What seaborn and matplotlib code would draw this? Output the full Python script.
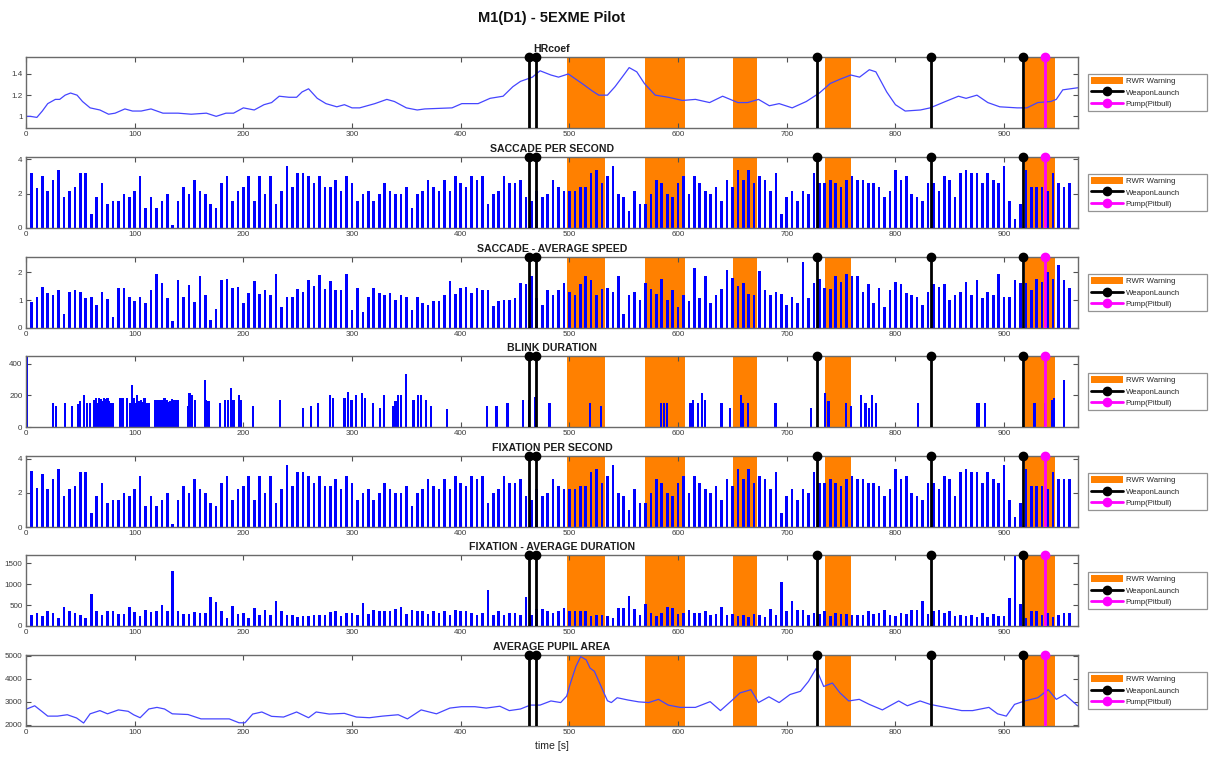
import matplotlib
matplotlib.use('Agg')
import matplotlib.pyplot as plt
import seaborn as sns
import numpy as np
from matplotlib.patches import Patch
from matplotlib.lines import Line2D
from matplotlib.legend_handler import HandlerLine2D

sns.set_theme(style='white')
plt.rcParams['font.family'] = ['Liberation Sans', 'DejaVu Sans']

# ---------------- data ----------------
rwr_start = [498, 570, 651, 735, 919]
rwr_end = [533, 606, 673, 759, 947]
weapon_t = [463, 469, 728, 833, 917]
pump_t = [938]

hr_t = [0, 4, 10, 15, 20, 27, 31, 36, 41, 47, 52, 59, 68, 76, 82, 91, 98, 106, 115, 126, 140, 152, 166, 175,
        184, 191, 200, 210, 219, 226, 233, 242, 249, 254, 260, 268, 276, 286, 293, 300, 307, 321, 332, 339,
        350, 360, 367, 392, 401, 416, 427, 439, 448, 455, 466, 473, 483, 490, 499, 506, 513, 521, 527, 535,
        542, 550, 555, 562, 569, 579, 591, 604, 616, 629, 641, 655, 664, 674, 684, 693, 705, 718, 730, 740,
        749, 759, 767, 776, 782, 792, 800, 809, 823, 832, 846, 858, 865, 875, 885, 896, 912, 921, 931, 943,
        948, 954, 968]
hr_v = [1.0, 1.0, 0.99, 1.05, 1.12, 1.16, 1.16, 1.2, 1.22, 1.2, 1.14, 1.08, 1.06, 1.02, 1.03, 1.07, 1.05,
        1.05, 1.07, 1.03, 1.03, 1.02, 1.03, 1.0, 1.03, 1.03, 1.08, 1.06, 1.11, 1.13, 1.19, 1.18, 1.18, 1.23,
        1.26, 1.17, 1.12, 1.09, 1.11, 1.08, 1.08, 1.12, 1.16, 1.14, 1.08, 1.06, 1.07, 1.08, 1.12, 1.12, 1.17,
        1.19, 1.28, 1.33, 1.37, 1.43, 1.39, 1.37, 1.4, 1.35, 1.3, 1.24, 1.2, 1.2, 1.28, 1.39, 1.46, 1.42,
        1.31, 1.2, 1.18, 1.15, 1.16, 1.13, 1.19, 1.13, 1.13, 1.16, 1.1, 1.12, 1.08, 1.14, 1.22, 1.31, 1.35,
        1.39, 1.37, 1.44, 1.42, 1.23, 1.11, 1.05, 1.06, 1.08, 1.14, 1.19, 1.17, 1.2, 1.13, 1.09, 1.08, 1.08,
        1.13, 1.14, 1.16, 1.25, 1.27]

bar_t = list(range(0, 965, 5))

sacc_ps = [2.98, 3.19, 2.3, 3.0, 2.17, 2.8, 3.37, 1.79, 2.17, 2.37, 3.19, 3.19, 0.79, 1.79, 2.6, 1.4, 1.58, 1.58, 1.98, 1.79,
           2.17, 3.0, 1.15, 1.79, 1.15, 1.58, 1.98, 0.15, 1.58, 2.4, 1.98, 2.8, 2.17, 1.98, 1.4, 1.15, 2.6, 3.0, 1.58, 2.17,
           2.4, 3.0, 1.58, 3.0, 1.98, 3.0, 1.4, 2.17, 3.63, 2.4, 3.19, 3.19, 3.0, 2.6, 3.0, 2.4, 2.4, 2.8, 2.17, 3.0,
           2.6, 1.58, 2.0, 2.17, 1.58, 1.98, 2.6, 2.17, 1.98, 1.98, 2.37, 1.15, 1.98, 2.17, 2.8, 2.4, 2.17, 2.8, 2.17, 3.0,
           2.6, 2.4, 3.0, 2.8, 3.0, 1.4, 1.98, 2.17, 3.0, 2.6, 2.6, 2.8, 1.79, 1.58, 2.17, 1.79, 1.98, 2.8, 2.37, 2.17,
           2.17, 2.17, 2.37, 2.37, 3.19, 3.37, 2.6, 3.0, 3.63, 1.98, 1.79, 0.96, 2.17, 1.4, 1.4, 1.98, 2.8, 2.6, 1.98, 1.79,
           2.6, 3.0, 1.98, 3.0, 2.6, 2.17, 1.98, 2.37, 1.58, 2.8, 2.37, 3.37, 2.8, 3.37, 2.6, 3.0, 2.8, 2.17, 3.19, 0.79,
           1.79, 2.17, 1.58, 2.17, 1.98, 3.19, 2.6, 2.6, 2.8, 2.6, 2.37, 2.8, 3.0, 2.8, 2.8, 2.6, 2.6, 2.37, 1.79, 2.17,
           3.37, 2.8, 3.0, 1.98, 1.79, 1.58, 2.6, 2.6, 2.17, 3.0, 2.8, 1.79, 3.19, 3.37, 3.19, 3.19, 2.6, 3.19, 2.8, 2.6,
           3.63, 1.58, 0.54, 1.4, 3.37, 2.37, 2.37, 2.37, 2.17, 3.19, 2.6, 2.37, 2.6]

sacc_speed = [1.29, 0.93, 1.11, 1.49, 1.25, 1.17, 1.35, 0.51, 1.29, 1.38, 1.31, 1.08, 1.13, 0.83, 1.31, 1.05, 0.39, 1.43, 1.43, 1.13,
              0.96, 1.13, 0.89, 1.35, 1.94, 1.61, 1.08, 0.24, 1.73, 1.11, 1.56, 0.93, 1.88, 1.2, 0.30, 0.67, 1.74, 1.76, 1.43, 1.46,
              0.89, 1.25, 1.7, 1.23, 1.38, 1.2, 1.94, 0.75, 1.11, 1.11, 1.4, 1.31, 1.74, 1.52, 1.89, 1.4, 1.7, 1.38, 1.35, 1.94,
              0.65, 1.43, 0.57, 1.11, 1.43, 1.26, 1.2, 1.26, 1.01, 1.2, 1.11, 0.65, 1.11, 0.89, 0.81, 0.96, 0.96, 1.17, 1.7, 1.23,
              1.43, 1.49, 1.25, 1.44, 1.38, 1.38, 0.79, 0.96, 0.99, 1.01, 1.08, 1.62, 1.58, 1.88, 1.08, 0.83, 1.38, 1.17, 1.35, 1.61,
              1.29, 1.17, 1.58, 1.88, 1.74, 1.17, 1.4, 1.43, 1.29, 1.85, 0.49, 1.17, 1.29, 1.01, 1.61, 1.4, 1.23, 1.76, 0.99, 1.38,
              0.77, 1.17, 0.96, 2.15, 1.08, 1.88, 0.9, 1.2, 1.4, 2.08, 1.8, 1.52, 1.61, 1.23, 1.17, 2.04, 1.35, 1.2, 1.29, 1.23,
              0.81, 1.11, 0.9, 2.36, 1.08, 1.61, 1.76, 1.44, 1.4, 1.88, 1.64, 1.94, 1.85, 1.85, 1.29, 1.58, 0.9, 1.44, 0.77, 1.35,
              1.64, 1.58, 1.26, 1.2, 1.13, 0.81, 1.29, 1.58, 1.46, 1.58, 1.01, 1.17, 1.29, 1.67, 1.2, 1.73, 1.07, 1.31, 1.2, 1.94,
              1.11, 1.11, 1.74, 1.62, 1.61, 1.35, 1.76, 1.67, 2.02, 1.76, 2.26, 1.73, 1.43]

blink_t = [0.5, 24.7, 27.8, 36, 42, 48, 50, 53.5, 56, 59, 63, 64.5, 66, 67.5, 69, 70.5, 72, 73.5, 75, 76.5, 78, 80,
           87, 89, 93, 96, 97.6, 99, 100.5, 102, 104, 106, 107.5, 109, 111, 113, 119, 121, 123, 125, 126.5, 127.5,
           129, 130, 131.5, 133, 134.5, 136, 138, 140, 149, 150.5, 153, 155.7, 164.5, 166, 168, 178.6, 183, 186,
           189, 191, 196, 198, 208.6, 234, 255, 262, 269, 280, 282.6, 293, 296, 299.5, 304, 309, 312, 319.6,
           325.6, 329.5, 338, 340, 342.5, 345, 350, 356.6, 361, 363.6, 368, 372.4, 387.6, 424, 433, 443, 457,
           463, 468.6, 481.7, 519, 529, 584.6, 587, 589.5, 611.5, 613.5, 618, 622, 624.6, 640, 647.6, 658, 660,
           664.4, 689.7, 722, 735, 738.4, 754.8, 759.4, 768.6, 772.5, 775.8, 778.4, 782.4, 821, 875.4, 877,
           882.6, 928, 937.8, 944.4, 946, 955]
blink_v = [448, 152, 135, 152, 135, 148, 162, 204, 152, 152, 173, 183, 152, 183, 177, 165, 183, 177, 183, 162, 152, 152,
           183, 183, 183, 152, 267, 183, 150, 204, 162, 173, 160, 183, 152, 152, 173, 170, 173, 173, 165, 183,
           170, 173, 160, 162, 175, 173, 173, 173, 135, 215, 204, 173, 298, 173, 162, 152, 173, 173,
           246, 173, 204, 173, 135, 173, 121, 135, 152, 204, 183, 183, 225, 173, 204, 215, 183, 152,
           121, 204, 135, 162, 204, 204, 333, 173, 204, 204, 173, 131, 117, 135, 135, 152, 173,
           173, 188, 152, 152, 131, 152, 152, 152, 152, 169, 152, 215, 169, 152, 121, 204, 152,
           152, 152, 121, 215, 167, 152, 135, 204, 152, 121, 204, 152, 152, 152, 152,
           152, 152, 152, 169, 183, 298]

fix_ps = [3.1, 3.3, 2.3, 3.1, 2.2, 2.8, 3.4, 1.8, 2.2, 2.4, 3.2, 3.2, 0.8, 1.8, 2.6, 1.4, 1.6, 1.6, 2.0, 1.8,
          2.2, 3.0, 1.2, 1.8, 1.2, 1.6, 2.0, 0.2, 1.6, 2.4, 2.0, 2.8, 2.2, 2.0, 1.4, 1.2, 2.6, 3.0, 1.6, 2.2,
          2.4, 3.0, 1.6, 3.0, 2.0, 3.0, 1.4, 2.2, 3.6, 2.4, 3.2, 3.2, 3.0, 2.6, 3.0, 2.4, 2.4, 2.8, 2.2, 3.0,
          2.6, 1.6, 2.0, 2.2, 1.6, 2.0, 2.6, 2.2, 2.0, 2.0, 2.4, 1.2, 2.0, 2.2, 2.8, 2.4, 2.2, 2.8, 2.2, 3.0,
          2.6, 2.4, 3.0, 2.8, 3.0, 1.4, 2.0, 2.2, 3.0, 2.6, 2.6, 2.8, 1.8, 1.6, 2.2, 1.8, 2.0, 2.8, 2.4, 2.2,
          2.2, 2.2, 2.4, 2.4, 3.2, 3.4, 2.6, 3.0, 3.6, 2.0, 1.8, 1.0, 2.2, 1.4, 1.4, 2.0, 2.8, 2.6, 2.0, 1.8,
          2.6, 3.0, 2.0, 3.0, 2.6, 2.2, 2.0, 2.4, 1.6, 2.8, 2.4, 3.4, 2.8, 3.4, 2.6, 3.0, 2.8, 2.2, 3.2, 0.8,
          1.8, 2.2, 1.6, 2.2, 2.0, 3.2, 2.6, 2.6, 2.8, 2.6, 2.4, 2.8, 3.0, 2.8, 2.8, 2.6, 2.6, 2.4, 1.8, 2.2,
          3.4, 2.8, 3.0, 2.0, 1.8, 1.6, 2.6, 2.6, 2.2, 3.0, 2.8, 1.8, 3.2, 3.4, 3.2, 3.2, 2.6, 3.2, 2.8, 2.6,
          3.6, 1.6, 0.6, 1.4, 3.4, 2.4, 2.4, 2.4, 2.2, 3.2, 2.8, 2.8, 2.8]

fix_dur = [292, 269, 316, 237, 348, 316, 198, 450, 348, 316, 253, 198, 766, 371, 253, 348, 348, 292, 292, 450,
           332, 237, 395, 332, 371, 506, 348, 1319, 371, 292, 292, 332, 316, 316, 687, 569, 348, 198, 490, 292,
           316, 198, 427, 269, 395, 269, 608, 371, 269, 269, 213, 237, 237, 253, 253, 269, 332, 371, 237, 316,
           316, 253, 545, 292, 395, 371, 348, 348, 411, 450, 292, 395, 348, 348, 292, 348, 316, 371, 269, 395,
           348, 348, 316, 269, 316, 869, 253, 371, 253, 316, 316, 269, 687, 253, 411, 411, 348, 316, 348, 427,
           371, 371, 348, 348, 237, 253, 269, 237, 190, 427, 427, 727, 411, 269, 529, 316, 237, 316, 450, 427,
           292, 316, 395, 316, 316, 348, 253, 292, 466, 269, 292, 237, 269, 213, 292, 253, 213, 411, 253, 1043,
           348, 608, 395, 395, 253, 316, 292, 348, 237, 316, 292, 292, 269, 253, 253, 348, 292, 316, 395, 253,
           237, 316, 292, 395, 395, 608, 292, 348, 395, 316, 371, 237, 253, 237, 269, 213, 316, 213, 292, 237,
           237, 664, 1690, 529, 198, 371, 348, 253, 316, 213, 253, 316, 316]

pupil_t = [0.7, 8, 15, 20, 29, 38, 46.5, 53, 59, 68, 75, 85, 94, 99, 105, 113, 120.5, 127.5, 134.6, 149, 161, 173,
           187, 196, 201.5, 208.6, 217, 226, 237, 249, 260, 267, 279, 293, 304, 316, 328, 342.5, 351, 363.6,
           377.7, 390, 400.6, 413, 423.5, 436, 444.7, 455, 464, 473, 483, 492, 497.5, 501, 506, 510.4, 515.5,
           519, 523, 529, 535, 538.6, 544, 554, 563.8, 573, 582, 591, 602, 616, 629.5, 639, 649, 657, 667, 674,
           683.6, 693, 703, 712.6, 720, 727, 734, 742, 749, 757, 766.7, 776, 788, 803, 811, 822.7, 832, 846,
           861, 871, 886, 894, 902, 909.6, 919, 931, 940.6, 948, 956, 967.6]
pupil_v = [2680, 2820, 2560, 2370, 2370, 2430, 2290, 2070, 2470, 2610, 2470, 2640, 2580, 2430, 2300, 2680, 2750,
           2680, 2470, 2440, 2250, 2250, 2250, 2080, 2080, 2460, 2550, 2360, 2330, 2550, 2300, 2550, 2460, 2490,
           2330, 2300, 2370, 2430, 2250, 2640, 2470, 2720, 2780, 2780, 2720, 2800, 2610, 2680, 2850, 2850, 3030,
           2960, 3240, 3810, 4530, 4960, 4820, 4460, 4320, 3680, 3040, 2960, 3170, 3070, 2990, 2960, 3100, 2850,
           2750, 2750, 3000, 2610, 3030, 3380, 3520, 2960, 3210, 2960, 3310, 3450, 3880, 4440, 3660, 3810, 3380,
           3030, 3100, 2880, 2640, 3030, 2820, 3030, 2880, 2750, 2610, 2610, 2750, 2470, 2370, 2880, 3030, 3170,
           3520, 3100, 3310, 2820]

panel_titles = ['HRcoef', 'SACCADE PER SECOND', 'SACCADE - AVERAGE SPEED', 'BLINK DURATION',
                'FIXATION PER SECOND', 'FIXATION - AVERAGE DURATION', 'AVERAGE PUPIL AREA']
ylims = [(0.89, 1.56), (0, 4.13), (0, 2.55), (0, 450), (0, 4.15), (0, 1700), (1940, 5030)]
yticks = [[1, 1.2, 1.4], [0, 2, 4], [0, 1, 2], [0, 200, 400], [0, 2, 4], [0, 500, 1000, 1500],
          [2000, 3000, 4000, 5000]]
ytick_labels = [['1', '1.2', '1.4'], ['0', '2', '4'], ['0', '1', '2'], ['0', '200', '400'], ['0', '2', '4'],
                ['0', '500', '1000', '1500'], ['2000', '3000', '4000', '5000']]
xticks = [0, 100, 200, 300, 400, 500, 600, 700, 800, 900]
legend_labels = ['RWR Warning', 'WeaponLaunch', 'Pump(Pitbull)']
main_title = 'M1(D1) - 5EXME Pilot'
x_label = 'time [s]'

# ---------------- style ----------------
ORANGE = '#FF8000'
BLUE = '#0000FF'
LINE_BLUE = '#4545ff'
MAGENTA = '#FF00FF'
W_PX, H_PX = 1210, 759
tops_px = [57, 157, 257, 356, 456, 555, 655]
panel_h = 71


class StemLegendHandler(HandlerLine2D):
    """Legend line with the marker near the right end (like MATLAB stem)."""
    def get_xdata(self, legend, xdescent, ydescent, width, height, fontsize):
        xdata = np.array([-xdescent, -xdescent + width])
        xmark = np.array([-xdescent + 0.82 * width])
        return xdata, xmark


fig = plt.figure(figsize=(W_PX / 100, H_PX / 100), dpi=100)
fig.patch.set_facecolor('white')

axes = []
for t in tops_px:
    ax = fig.add_axes([26 / W_PX, 1 - (t + panel_h) / H_PX, 1052 / W_PX, panel_h / H_PX])
    axes.append(ax)

bar_data = {1: sacc_ps, 2: sacc_speed, 4: fix_ps, 5: fix_dur}

for i, ax in enumerate(axes):
    ax.set_facecolor('white')
    for a, b in zip(rwr_start, rwr_end):
        ax.axvspan(a, b, color=ORANGE, lw=0, zorder=0)
    if i == 0:
        sns.lineplot(x=hr_t, y=hr_v, color=LINE_BLUE, lw=0.9, ax=ax, zorder=2)
    elif i == 6:
        sns.lineplot(x=pupil_t, y=pupil_v, color=LINE_BLUE, lw=0.9, ax=ax, zorder=2)
    elif i == 3:
        gaps = np.diff(sorted(blink_t))
        sns.barplot(x=blink_t, y=blink_v, native_scale=True, orient='x', color=BLUE, saturation=1,
                    errorbar=None, width=2.0 / gaps.min(), linewidth=0, ax=ax, zorder=2)
    else:
        sns.barplot(x=bar_t, y=bar_data[i], native_scale=True, orient='x', color=BLUE, saturation=1,
                    errorbar=None, width=0.48, linewidth=0, ax=ax, zorder=2)
    ylo, yhi = ylims[i]
    ax.set_xlim(0, 968)
    ax.set_ylim(ylo, yhi)
    ax.vlines(weapon_t, ylo, yhi, color='black', lw=2.0, zorder=4)
    ax.plot(weapon_t, [yhi] * len(weapon_t), 'o', color='black', ms=6, clip_on=False, zorder=5)
    ax.vlines(pump_t, ylo, yhi, color=MAGENTA, lw=2.0, zorder=4)
    ax.plot(pump_t, [yhi] * len(pump_t), 'o', color=MAGENTA, ms=6, clip_on=False, zorder=5)

    ax.set_xticks(xticks)
    ax.set_xticklabels([str(v) for v in xticks])
    ax.set_yticks(yticks[i])
    ax.set_yticklabels(ytick_labels[i])
    ax.set_xlabel('')
    ax.set_ylabel('')
    ax.tick_params(direction='in', length=3.5, width=0.8, color='#505050', labelcolor='#3c3c3c',
                   labelsize=5.8, top=True, right=True, bottom=True, left=True, pad=2.5)
    for s in ax.spines.values():
        s.set_color('#6a6a6a')
        s.set_linewidth(1.0)
        s.set_visible(True)
    ax.set_title(panel_titles[i], fontsize=7.6, fontweight='bold', pad=3.5, color='#1e1e1e')

    lh1 = Line2D([0], [0], color='black', lw=2, marker='o', ms=6)
    lh2 = Line2D([0], [0], color=MAGENTA, lw=2, marker='o', ms=6)
    handles = [Patch(facecolor=ORANGE, edgecolor='none'), lh1, lh2]
    leg = ax.legend(handles, legend_labels, loc='center left',
                    bbox_to_anchor=(1.0095, 0.0, 119 / 1052, 1.0), mode='expand',
                    borderaxespad=0, frameon=True, fancybox=False, fontsize=5.6, handlelength=4.1,
                    handleheight=1.0, handletextpad=0.35, borderpad=0.4, labelspacing=0.4, numpoints=1,
                    handler_map={lh1: StemLegendHandler(), lh2: StemLegendHandler()})
    leg.get_frame().set_edgecolor('#7a7a7a')
    leg.get_frame().set_linewidth(0.9)

axes[-1].set_xlabel(x_label, fontsize=7.6, color='#222222', labelpad=3)
fig.text(552 / W_PX, 1 - 18 / H_PX, main_title, ha='center', va='center', fontsize=10.5,
         fontweight='bold', color='#111111')

fig.savefig('out.png', dpi=100, facecolor='white')
